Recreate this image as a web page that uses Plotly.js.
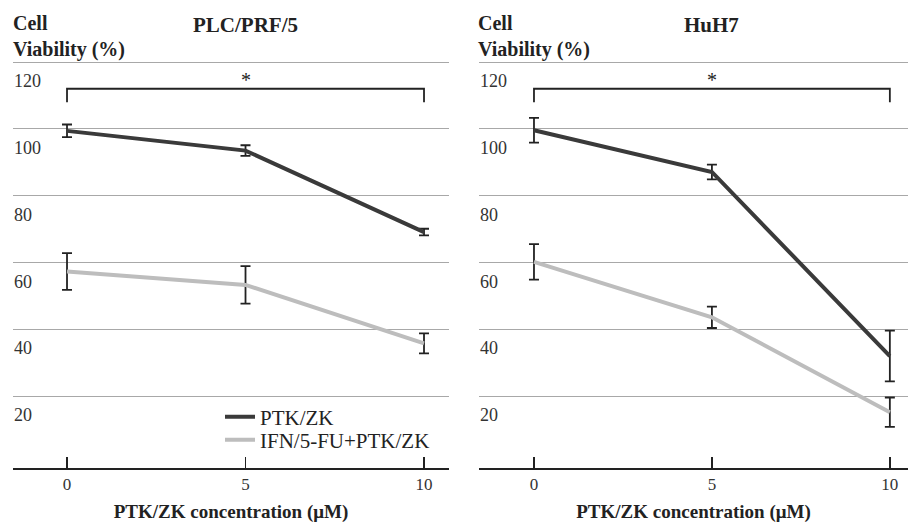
<!DOCTYPE html>
<html>
<head>
<meta charset="utf-8">
<script src="https://cdn.plot.ly/plotly-3.0.1.min.js"></script>
<style>html,body{margin:0;padding:0;background:#fff;}#chart{width:908px;height:523px;}</style>
</head>
<body>
<div id="chart"></div>
<script>
// ---- data ----
const concentrations = [0, 5, 10];
const panelTitles = ["PLC/PRF/5", "HuH7"];
const seriesNames = ["PTK/ZK", "IFN/5-FU+PTK/ZK"];
// PLC/PRF/5
const plcPTK = [99.4, 93.5, 69.1];
const plcPTKerr = [1.9, 1.6, 1.0];
const plcCombo = [57.3, 53.3, 35.8];
const plcComboErr = [5.5, 5.6, 3.0];
// HuH7
const huhPTK = [99.6, 87.1, 32.0];
const huhPTKerr = [3.7, 2.2, 7.6];
const huhCombo = [60.2, 43.6, 15.2];
const huhComboErr = [5.3, 3.2, 4.4];
// axis ticks
const yTickVals = [20, 40, 60, 80, 100, 120];
const yTickText = ["20", "40", "60", "80", "100", "120"];
const xTickVals = [0, 5, 10];
const xTickText = ["0", "5", "10"];
const yTitleLines = ["Cell", "Viability (%)"];
const xTitle = "PTK/ZK concentration (μM)";
const sigBracket = {x0: 0, x1: 10, y: 112, tip: 108, star: "*", starY: 114.6};

const serif = "Liberation Serif";
const darkCol = "#3a3a3a";
const lightCol = "#bdbdbd";
const errCol = "#222";

function mk(x, y, err, name, color, xa, ya, showLegend, legend) {
  return {
    type: "scatter", mode: "lines", x: x, y: y, name: name,
    xaxis: xa, yaxis: ya, showlegend: showLegend, legend: legend,
    line: {color: color, width: 4},
    error_y: {type: "data", array: err, visible: true, color: errCol, thickness: 1.8, width: 5}
  };
}

const traces = [
  mk(concentrations, plcPTK, plcPTKerr, seriesNames[0], darkCol, "x", "y", true, "legend"),
  mk(concentrations, plcCombo, plcComboErr, seriesNames[1], lightCol, "x", "y", true, "legend2"),
  mk(concentrations, huhPTK, huhPTKerr, seriesNames[0], darkCol, "x2", "y2", false, "legend"),
  mk(concentrations, huhCombo, huhComboErr, seriesNames[1], lightCol, "x2", "y2", false, "legend2")
];

const W = 908, H = 523;
const yDomain = [1 - 468 / H, 1 - 58.7 / H];
const yRange = [-1.5, 121];

function xax(domain, range) {
  return {
    domain: domain, range: range, showgrid: false, zeroline: false,
    showline: true, linecolor: "#222", linewidth: 2,
    tickmode: "array", tickvals: xTickVals, ticktext: xTickText,
    ticks: "inside", ticklen: 11, tickwidth: 1.5, tickcolor: "#222",
    tickfont: {family: serif, size: 17, color: "#333"},
    title: {text: "<b>" + xTitle + "</b>", font: {family: serif, size: 19, color: "#222"}, standoff: 12},
    fixedrange: true
  };
}
function yax(anchor) {
  return {
    domain: yDomain, range: yRange, anchor: anchor,
    showgrid: true, gridcolor: "#a8a8a8", gridwidth: 1,
    zeroline: false, showline: false,
    tickmode: "array", tickvals: yTickVals, showticklabels: false, ticks: "",
    fixedrange: true
  };
}

const annotations = [];
const panels = [
  {xref: "x", yref: "y", labelX: 12, titleX: 245, cellX: 12},
  {xref: "x2", yref: "y2", labelX: 478, titleX: 711, cellX: 477}
];
const titleFont = {family: serif, size: 21, color: "#222"};
panels.forEach((p, i) => {
  yTickVals.forEach((v, k) => {
    annotations.push({xref: "paper", yref: p.yref, x: p.labelX / W, y: v, yshift: -19,
      xanchor: "left", yanchor: "middle", showarrow: false, text: yTickText[k],
      font: {family: serif, size: 18, color: "#333"}});
  });
  annotations.push({xref: "paper", yref: "paper", x: p.titleX / W, y: 1 - 25 / H, xanchor: "center", yanchor: "middle",
    showarrow: false, text: "<b>" + panelTitles[i] + "</b>", font: titleFont});
  annotations.push({xref: "paper", yref: "paper", x: p.cellX / W, y: 1 - 36 / H, xanchor: "left", yanchor: "middle",
    align: "left", borderpad: 0, showarrow: false,
    text: "<b>" + yTitleLines.join("<br>") + "</b>", font: {family: serif, size: 20, color: "#222"}});
  annotations.push({xref: p.xref, yref: p.yref, x: (sigBracket.x0 + sigBracket.x1) / 2, y: sigBracket.starY,
    showarrow: false, text: sigBracket.star, font: {family: serif, size: 20, color: "#222"}});
});

const shapes = [];
panels.forEach(p => {
  const b = sigBracket;
  shapes.push({type: "path", xref: p.xref, yref: p.yref,
    path: `M ${b.x0},${b.tip} L ${b.x0},${b.y} L ${b.x1},${b.y} L ${b.x1},${b.tip}`,
    line: {color: "#222", width: 1.8}});
});

const legendBase = {xanchor: "left", yanchor: "middle", bgcolor: "rgba(0,0,0,0)",
  font: {family: serif, size: 21, color: "#222"}, itemwidth: 30, borderwidth: 0};

const layout = {
  width: W, height: H,
  margin: {l: 0, r: 0, t: 0, b: 0},
  paper_bgcolor: "#fff", plot_bgcolor: "#fff",
  xaxis: xax([13 / W, 449 / W], [-1.513, 10.7]),
  yaxis: yax("x"),
  xaxis2: xax([479 / W, 1], [-1.545, 10.51]),
  yaxis2: yax("x2"),
  showlegend: true,
  legend: Object.assign({x: 220 / W, y: 1 - 417 / H}, legendBase),
  legend2: Object.assign({x: 220 / W, y: 1 - 440 / H}, legendBase),
  annotations: annotations,
  shapes: shapes
};

Plotly.newPlot("chart", traces, layout, {staticPlot: true});
</script>
</body>
</html>
